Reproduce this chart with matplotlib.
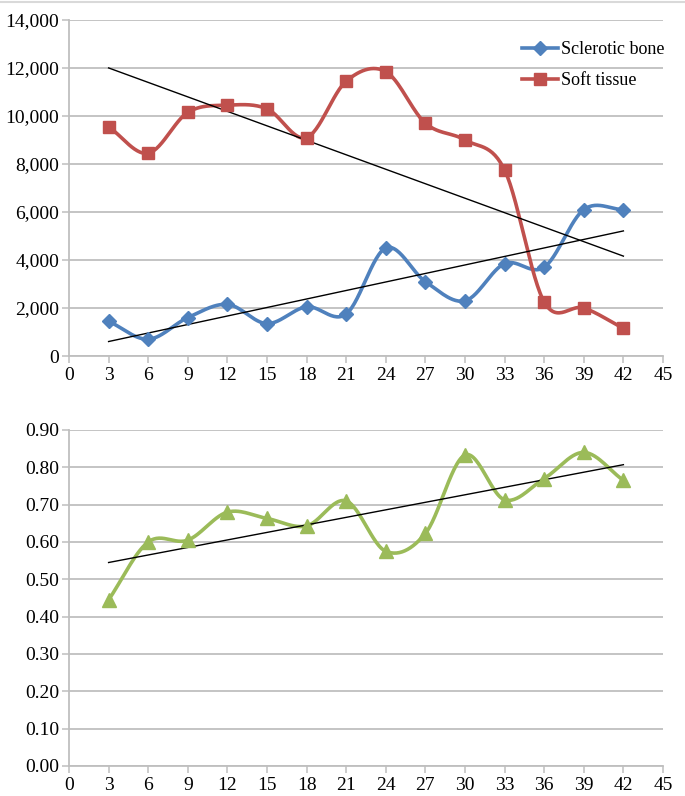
import numpy as np
import matplotlib
matplotlib.use("Agg")
import matplotlib.pyplot as plt
from matplotlib.ticker import FuncFormatter, MultipleLocator

# datos
x_vals = [3, 6, 9, 12, 15, 18, 21, 24, 27, 30, 33, 36, 39, 42]
sclerotic_bone = [1450, 700, 1600, 2150, 1350, 2050, 1750, 4500, 3100, 2300, 3850, 3700, 6100, 6100]
soft_tissue = [9550, 8450, 10150, 10450, 10300, 9100, 11450, 11850, 9700, 9000, 7750, 2250, 2000, 1150]
ratio = [0.445, 0.600, 0.605, 0.680, 0.663, 0.643, 0.710, 0.575, 0.623, 0.833, 0.713, 0.770, 0.840, 0.765]

BLUE = '#4F81BD'
RED = '#C0504D'
GREEN = '#9BBB59'
GRID = '#BFBFBF'

plt.rcParams['font.family'] = ['Liberation Serif', 'DejaVu Serif']


def smooth(x, y, n=30):
    # curva suavizada tipo Excel (Catmull-Rom)
    x = np.asarray(x, float)
    y = np.asarray(y, float)
    px = np.concatenate([[2 * x[0] - x[1]], x, [2 * x[-1] - x[-2]]])
    py = np.concatenate([[2 * y[0] - y[1]], y, [2 * y[-1] - y[-2]]])
    xs, ys = [], []
    t = np.linspace(0, 1, n)
    for i in range(1, len(px) - 2):
        p0, p1, p2, p3 = px[i - 1], px[i], px[i + 1], px[i + 2]
        q0, q1, q2, q3 = py[i - 1], py[i], py[i + 1], py[i + 2]
        c1x, c1y = p1 + (p2 - p0) / 6, q1 + (q2 - q0) / 6
        c2x, c2y = p2 - (p3 - p1) / 6, q2 - (q3 - q1) / 6
        bx = (1 - t) ** 3 * p1 + 3 * (1 - t) ** 2 * t * c1x + 3 * (1 - t) * t ** 2 * c2x + t ** 3 * p2
        by = (1 - t) ** 3 * q1 + 3 * (1 - t) ** 2 * t * c1y + 3 * (1 - t) * t ** 2 * c2y + t ** 3 * q2
        xs.extend(bx)
        ys.extend(by)
    return np.array(xs), np.array(ys)


def trend(ax, x, y):
    m, b = np.polyfit(x, y, 1)
    xx = np.array([x[0], x[-1]])
    ax.plot(xx, m * xx + b, color='black', lw=1.0, zorder=4)


def style_axes(ax):
    ax.set_xlim(0, 45)
    ax.xaxis.set_major_locator(MultipleLocator(3))
    ax.grid(axis='y', color=GRID, lw=1.3)
    ax.set_axisbelow(True)
    for s in ['top', 'right']:
        ax.spines[s].set_visible(False)
    for s in ['left', 'bottom']:
        ax.spines[s].set_color(GRID)
        ax.spines[s].set_linewidth(1.3)
    ax.tick_params(axis='both', colors=GRID, labelcolor='black', labelsize=14,
                   length=5, width=1.1, direction='out')
    ax.tick_params(axis='x', pad=3)
    ax.tick_params(axis='y', pad=2)


fig = plt.figure(figsize=(6.85, 7.96), dpi=100)
ax1 = fig.add_axes([69 / 685, 1 - 356 / 796, 594 / 685, 336 / 796])
ax2 = fig.add_axes([69 / 685, 1 - 766 / 796, 594 / 685, 336 / 796])

# grafico superior
sx, sy = smooth(x_vals, sclerotic_bone)
ax1.plot(sx, sy, color=BLUE, lw=2.6, zorder=3)
ax1.plot(x_vals, sclerotic_bone, ls='none', marker='D', ms=7.5, color=BLUE, zorder=5)
sx, sy = smooth(x_vals, soft_tissue)
ax1.plot(sx, sy, color=RED, lw=2.6, zorder=3)
ax1.plot(x_vals, soft_tissue, ls='none', marker='s', ms=9, color=RED, zorder=5)
trend(ax1, x_vals, sclerotic_bone)
trend(ax1, x_vals, soft_tissue)
ax1.set_ylim(0, 14000)
ax1.yaxis.set_major_locator(MultipleLocator(2000))
ax1.yaxis.set_major_formatter(FuncFormatter(lambda v, p: f'{int(v):,}'))
style_axes(ax1)

h1, = ax1.plot([], [], color=BLUE, lw=2.6, marker='D', ms=7.5)
h2, = ax1.plot([], [], color=RED, lw=2.6, marker='s', ms=9)
ax1.legend([h1, h2], ['Sclerotic bone', 'Soft tissue'], loc='upper left',
           bbox_to_anchor=((522 - 69) / 594, (356 - 41) / 336), frameon=False, fontsize=13,
           handlelength=2.0, handletextpad=0.15, labelspacing=0.8,
           borderpad=0, borderaxespad=0)

# grafico inferior
sx, sy = smooth(x_vals, ratio)
ax2.plot(sx, sy, color=GREEN, lw=2.6, zorder=3)
ax2.plot(x_vals, ratio, ls='none', marker='^', ms=10, color=GREEN, zorder=5)
trend(ax2, x_vals, ratio)
ax2.set_ylim(0, 0.9)
ax2.yaxis.set_major_locator(MultipleLocator(0.1))
ax2.yaxis.set_major_formatter(FuncFormatter(lambda v, p: f'{v:.2f}'))
style_axes(ax2)

# linea gris superior
fig.add_artist(plt.Line2D([0, 1], [1 - 2 / 796, 1 - 2 / 796], color='#D9D9D9', lw=1.5))

plt.savefig('out.png', dpi=100)
plt.close()
